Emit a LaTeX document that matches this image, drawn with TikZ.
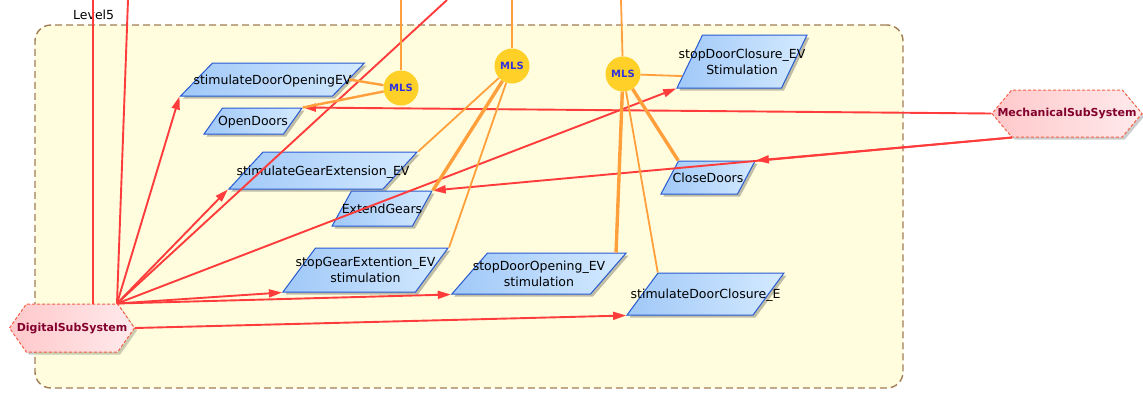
\documentclass[tikz,border=0pt]{standalone}
\usepackage{fontspec}
\setmainfont{DejaVu Sans}
\usetikzlibrary{shapes.geometric,shapes.symbols,arrows.meta,shadows,calc}

\definecolor{levelfill}{RGB}{255,253,222}
\definecolor{levelline}{RGB}{160,125,85}
\definecolor{flowline}{RGB}{40,90,210}
\definecolor{flowdark}{RGB}{160,200,248}
\definecolor{flowlight}{RGB}{212,234,255}
\definecolor{mlsfill}{RGB}{255,208,40}
\definecolor{mlstext}{RGB}{50,50,220}
\definecolor{sysdark}{RGB}{255,200,202}
\definecolor{syslight}{RGB}{255,234,236}
\definecolor{sysline}{RGB}{245,95,70}
\definecolor{systext}{RGB}{130,0,45}
\definecolor{sigred}{RGB}{255,60,60}
\definecolor{mlsorange}{RGB}{255,160,60}

% label that does not size its shape
\newcommand{\flowtext}[1]{\raisebox{-4.5pt}[0pt][0pt]{\makebox[0pt]{\begin{tabular}{@{}c@{}}#1\end{tabular}}}}

\begin{document}
\begin{tikzpicture}[x=1pt, y=-1pt,
    font=\fontsize{12.5}{16}\selectfont,
    level/.style={draw=levelline, fill=levelfill, line width=1.4pt, dash pattern=on 7pt off 4pt,
                  rounded corners=16pt, inner sep=0pt},          % the Level5 frame
    flow/.style={trapezium, draw=flowline, line width=1pt,
                 left color=flowdark, right color=flowlight,
                 drop shadow={shadow xshift=2.5pt, shadow yshift=-2.5pt, fill=black, opacity=.25}},
    lean/.style={trapezium left angle=#1, trapezium right angle=180-#1},
    sys/.style={signal, signal to=east and west, signal pointer angle=#1, draw=sysline,
                line width=1pt, dash pattern=on 3pt off 2pt, left color=sysdark, right color=syslight,
                text=systext, inner sep=0pt, font=\bfseries\fontsize{11}{13}\selectfont,
                drop shadow={shadow xshift=2.5pt, shadow yshift=-2.5pt, fill=black, opacity=.2}},
    mls/.style={circle, fill=mlsfill, text=mlstext, minimum size=35pt, inner sep=0pt,
                font=\bfseries\fontsize{10}{11}\selectfont},
    sig/.style={draw=sigred, line width=1.9pt, -{Triangle[length=13pt,width=8pt]}},
    sigline/.style={draw=sigred, line width=1.9pt},
    link/.style={draw=mlsorange, line width=1.8pt},
    thick link/.style={draw=mlsorange, line width=3.4pt}]
  \useasboundingbox (0,0) rectangle (1143,392);

  % frame
  \node[level, minimum width=868pt, minimum height=363pt] (lvl) at (469,206.5) {};
  \node[anchor=west, inner sep=0pt] (lvlname) at (73,15) {Level5};

  % flows
  \node[flow, lean=46, inner xsep=60pt, inner ysep=16.5pt] (sdo) at (272.5,79.5) {\flowtext{stimulateDoorOpeningEV}};
  \node[flow, lean=54.6, inner xsep=30.5pt, inner ysep=13pt] (od) at (253,121) {\flowtext{OpenDoors}};
  \node[flow, lean=47.4, inner xsep=60pt, inner ysep=18.5pt] (sge) at (323,170.5) {\flowtext{stimulateGearExtension\_EV}};
  \node[flow, lean=61, inner xsep=30.5pt, inner ysep=17.5pt] (eg) at (382,208.5) {\flowtext{ExtendGears}};
  \node[flow, lean=53.5, inner xsep=50pt, inner ysep=22pt] (sgx) at (365.5,270) {\flowtext{stopGearExtention\_EV\\stimulation}};
  \node[flow, lean=49, inner xsep=51.5pt, inner ysep=20.5pt] (sdop) at (539,273.5) {\flowtext{stopDoorOpening\_EV\\stimulation}};
  \node[flow, lean=53.6, inner xsep=47.5pt, inner ysep=21pt] (sdc) at (705.5,294) {\flowtext{stimulateDoorClosure\_E}};
  \node[flow, lean=64.3, inner xsep=39.5pt, inner ysep=26.5pt] (sdcl) at (742,61.5) {\flowtext{stopDoorClosure\_EV\\Stimulation}};
  \node[flow, lean=62, inner xsep=29.5pt, inner ysep=16.5pt] (cd) at (708,177.5) {\flowtext{CloseDoors}};

  % subsystems
  \node[sys=100, minimum width=150pt, minimum height=47pt] (ms) at (1067,113.5) {\makebox[0pt]{MechanicalSubSystem}};
  \node[sys=110, minimum width=125pt, minimum height=48pt] (ds) at (72,328) {\makebox[0pt]{DigitalSubSystem}};

  % MLS junctions
  \node[mls] (m1) at (401,88) {MLS};
  \node[mls] (m2) at (512,66) {MLS};
  \node[mls] (m3) at (623,74) {MLS};

  % free ends above the picture
  \coordinate (t0) at (93,0);
  \coordinate (t1) at (128,0);
  \coordinate (t2) at (447,0);
  \coordinate (t3) at (401,0);
  \coordinate (t4) at (512,0);
  \coordinate (t5) at (621,0);
  \coordinate (dhub) at ([xshift=45pt]ds.north);
  \coordinate (mhub) at ([xshift=-55pt]ms.south);

  % signals from DigitalSubSystem
  \draw[sigline] (t0 |- ds.north) -- (t0);
  \draw[sigline] (dhub) -- (t1);
  \draw[sigline] (dhub) -- (t2);
  \draw[sig] (dhub) -- (sdo.bottom left corner);
  \draw[sig] (dhub) -- (sge.bottom left corner);
  \draw[sig] (dhub) -- (sgx.bottom left corner);
  \draw[sig] (dhub) -- (sdop.bottom left corner);
  \draw[sig] (dhub) -- (sdcl.bottom left corner);
  \draw[sig] (ds.east) -- (sdc.bottom left corner);

  % signals from MechanicalSubSystem
  \draw[sig] (ms.west) -- (od.top right corner);
  \draw[sig] (mhub) -- (eg.top right corner);
  \draw[sig] (mhub) -- (cd.top right corner);

  % MLS links
  \draw[link] (m1) -- (t3);
  \draw[link, line width=2.4pt] (m1) -- (sdo.east);
  \draw[link, line width=2.4pt] (m1) -- (od.top right corner);
  \draw[link] (m2) -- (t4);
  \draw[link] (m2) -- (sge.top right corner);
  \draw[thick link] (m2) -- (eg.top right corner);
  \draw[link] (m2) -- (sgx.top right corner);
  \draw[link] (m3) -- (t5);
  \draw[link] (m3) -- ($(sdcl.top left corner)!0.77!(sdcl.bottom left corner)$);
  \draw[thick link] (m3) -- (cd.top left corner);
  \draw[thick link] (m3) -- ($(sdop.top left corner)!0.92!(sdop.top right corner)$);
  \draw[link] (m3) -- (sdc.top left corner);
\end{tikzpicture}
\end{document}
